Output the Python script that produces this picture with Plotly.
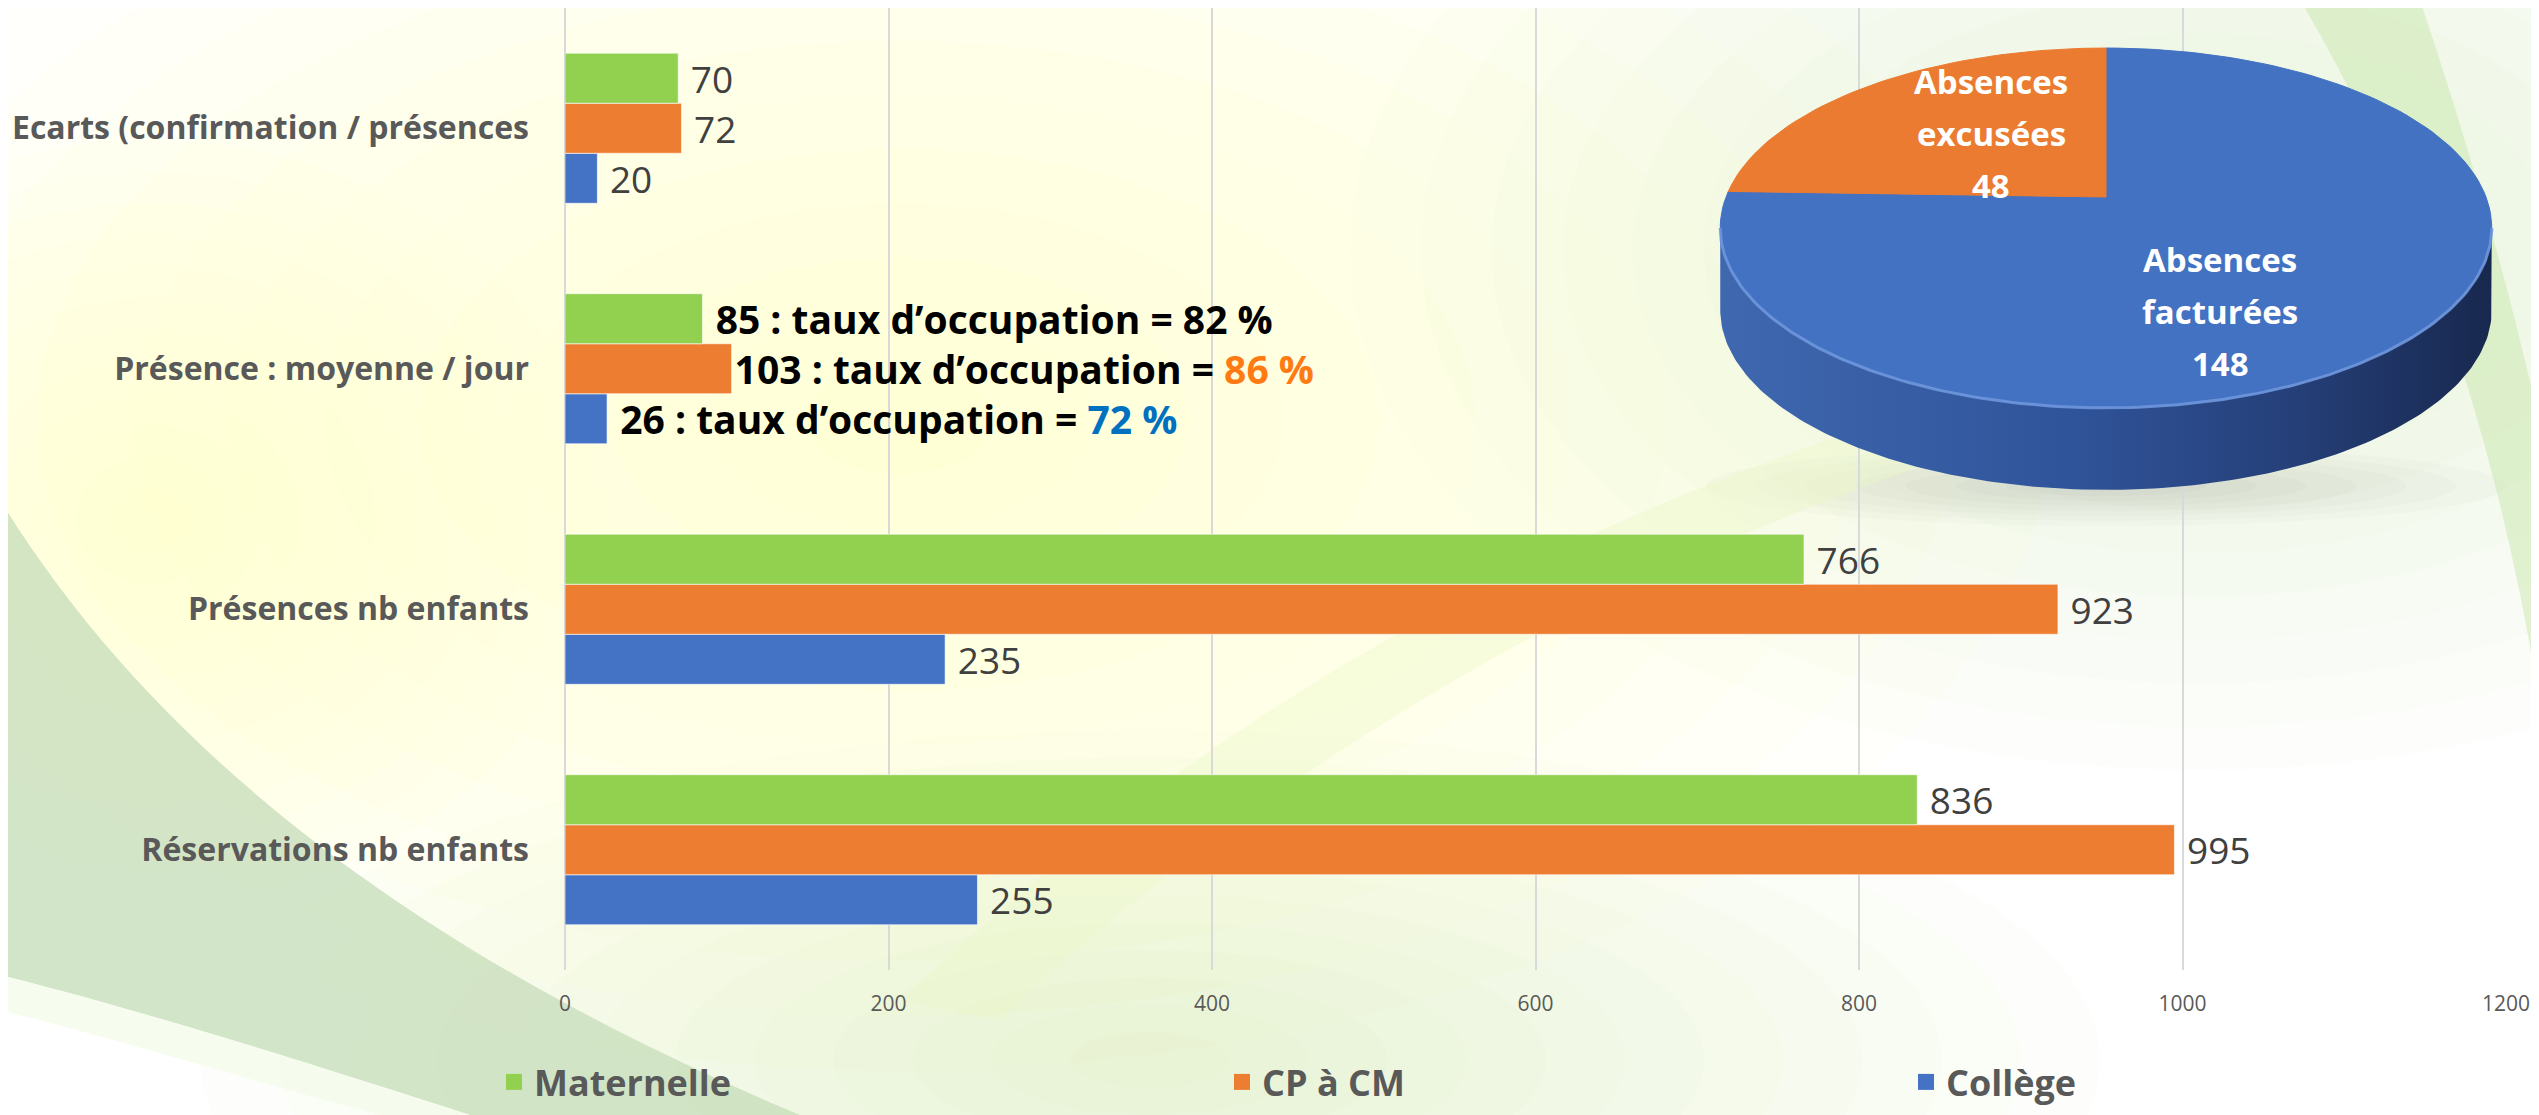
import math
import plotly.graph_objects as go

# ---------------- data ----------------
categories = [
    "Réservations nb enfants",
    "Présences nb enfants",
    "Présence : moyenne / jour",
    "Ecarts (confirmation / présences",
]
maternelle = [836, 766, 85, 70]
cp_cm = [995, 923, 103, 72]
college = [255, 235, 26, 20]

taux_maternelle = 82
taux_cp_cm = 86
taux_college = 72

x_ticks = [0, 200, 400, 600, 800, 1000, 1200]

pie_labels = ["Absences facturées", "Absences excusées"]
pie_values = [148, 48]

# ---------------- styles ----------------
FONT = "Open Sans"
C_GREEN = "#92D050"
C_ORANGE = "#ED7D31"
C_BLUE = "#4472C4"
GRAY_TXT = "#595959"
VAL_TXT = "#404040"

SCREEN_W, SCREEN_H = 2539, 1115
OFF = 8                                  # page body margin
W, H = SCREEN_W - OFF, SCREEN_H - OFF    # figure size
PX0, PX1 = 565, 2506                     # plot area, screen pixels
PY0, PY1 = 8, 970
ML, MT = PX0 - OFF, PY0 - OFF
MR, MB = W - (PX1 - OFF), H - (PY1 - OFF)


def paper(px, py):
    return (px - PX0) / (PX1 - PX0), (PY1 - py) / (PY1 - PY0)


def path_px(cmds):
    out = []
    for c in cmds:
        if isinstance(c, str):
            out.append(c)
        else:
            x, y = paper(*c)
            out.append(f"{x:.5f},{y:.5f}")
    return " ".join(out)


def value_labels(vals, taux, pct_color, lead):
    out = []
    for cat, v in zip(categories, vals):
        if cat == "Présence : moyenne / jour":
            pct = f"{taux} %"
            if pct_color:
                pct = f"<span style='color:{pct_color}'>{pct}</span>"
            out.append(f"<b>{lead}{v} : taux d’occupation = {pct}</b>")
        else:
            out.append(f" {v}")
    return out


def label_colors():
    return ["#000000" if c == "Présence : moyenne / jour" else VAL_TXT for c in categories]


def label_sizes():
    return [39 if c == "Présence : moyenne / jour" else 37 for c in categories]


fig = go.Figure()

series = [
    ("Collège", college, C_BLUE, taux_college, "#0070C0", " ", "legend3"),
    ("CP à CM", cp_cm, C_ORANGE, taux_cp_cm, "#FF7A12", "", "legend2"),
    ("Maternelle", maternelle, C_GREEN, taux_maternelle, None, " ", "legend"),
]

for name, vals, col, taux, pcol, lead, lg in series:
    fig.add_trace(go.Bar(
        y=categories, x=vals, orientation="h", name=name,
        marker=dict(color=col, line=dict(color="rgba(255,255,255,0.6)", width=1)),
        text=value_labels(vals, taux, pcol, lead),
        textposition="outside", cliponaxis=False, constraintext="none",
        textfont=dict(family=FONT, size=label_sizes(), color=label_colors()),
        showlegend=False, legendgroup=name, hoverinfo="x+name",
    ))
    fig.add_trace(go.Scatter(
        x=[None], y=[None], mode="markers", name=name, legend=lg,
        legendgroup=name,
        marker=dict(symbol="square", size=16, color=col),
    ))

# ---------------- 3D-looking pie on a pixel-mapped overlay axis ----------------
PIE_CX, PIE_CY, PIE_RX = 2106, 197, 380
PIE_B, PIE_C, PIE_DEPTH = -140.7, 0.172, 82
pie_colors = {"Absences facturées": "#4372C2", "Absences excusées": "#EB7B30"}


def proj(theta):
    u, v = math.cos(theta), math.sin(theta)
    d = 1 + PIE_C * v
    return PIE_CX + PIE_RX * u / d, (PIE_CY + PIE_B * v) / d


# side wall (front half)
tL = math.pi + math.asin(PIE_C)
tR = 2 * math.pi - math.asin(PIE_C)
n = 160
top_edge = [proj(tL + (tR - tL) * i / n) for i in range(n + 1)]
side_x = [p[0] for p in top_edge] + [p[0] for p in reversed(top_edge)]
side_y = [p[1] for p in top_edge] + [p[1] + PIE_DEPTH for p in reversed(top_edge)]
fig.add_trace(go.Scatter(
    x=side_x, y=side_y, xaxis="x2", yaxis="y2", mode="lines",
    fill="toself", line=dict(width=0, color="#2E4E8E"),
    fillgradient=dict(type="horizontal",
                      colorscale=[[0, "#3F68B0"], [0.45, "#30549A"], [0.75, "#253F78"], [1, "#18284E"]]),
    showlegend=False, hoverinfo="skip",
))

# top face slices (first slice starts at 12 o'clock, clockwise)
total = sum(pie_values)
start = math.pi / 2
for lab, val in zip(pie_labels, pie_values):
    span = 2 * math.pi * val / total
    m = max(8, int(200 * val / total))
    pts = [proj(start - span * i / m) for i in range(m + 1)]
    xs = [PIE_CX] + [p[0] for p in pts] + [PIE_CX]
    ys = [PIE_CY] + [p[1] for p in pts] + [PIE_CY]
    fig.add_trace(go.Scatter(
        x=xs, y=ys, xaxis="x2", yaxis="y2", mode="lines", fill="toself",
        fillcolor=pie_colors[lab], line=dict(width=1, color=pie_colors[lab]),
        name=lab, showlegend=False, hoverinfo="name",
    ))
    start -= span

# rim highlight
fig.add_trace(go.Scatter(
    x=[p[0] for p in top_edge], y=[p[1] for p in top_edge], xaxis="x2", yaxis="y2",
    mode="lines", line=dict(width=3, color="rgba(110,150,220,0.9)"),
    showlegend=False, hoverinfo="skip",
))

pie_label_pos = {"Absences excusées": (1991, 81), "Absences facturées": (2220, 259)}
LINE_STEP = 52
for lab, val in zip(pie_labels, pie_values):
    w1, w2 = lab.split(" ", 1)
    px, py = pie_label_pos[lab]
    for k, line in enumerate([w1, w2, str(val)]):
        fig.add_annotation(
            x=px, y=py + k * LINE_STEP, xref="x2", yref="y2", showarrow=False,
            text=f"<b>{line}</b>",
            font=dict(family=FONT, size=33, color="white"),
            align="center",
        )

# ---------------- background decoration ----------------
bg = []


def glow(cx, cy, rx, ry, rgb, peak, n=12):
    for k in range(n, 0, -1):
        s = k / n
        x0, y0 = paper(cx - rx * s, cy - ry * s)
        x1, y1 = paper(cx + rx * s, cy + ry * s)
        bg.append(dict(type="circle", xref="paper", yref="paper", x0=x0, x1=x1, y0=y1, y1=y0,
                       fillcolor=f"rgba({rgb[0]},{rgb[1]},{rgb[2]},{peak / n:.4f})",
                       line_width=0, layer="below"))


glow(900, 420, 1150, 650, (255, 248, 170), 0.6)
glow(150, 520, 450, 380, (255, 250, 175), 0.5)
glow(2200, 250, 850, 520, (210, 238, 175), 0.5)
glow(1150, 1060, 950, 330, (212, 240, 180), 0.6)
glow(2106, 486, 400, 40, (90, 90, 90), 0.18, n=8)

# grey-green swoosh band bottom-left
bg.append(dict(type="path", xref="paper", yref="paper", layer="below", line_width=0,
               fillcolor="rgba(200,222,188,0.8)",
               path=path_px(["M", (0, 500), "C", (160, 760), (430, 960), (800, SCREEN_H),
                             "L", (470, SCREEN_H), "C", (300, 1060), (140, 1010), (0, 975), "Z"])))
# pale streak
bg.append(dict(type="path", xref="paper", yref="paper", layer="below", line_width=0,
               fillcolor="rgba(245,252,235,0.85)",
               path=path_px(["M", (0, 975), "C", (140, 1010), (300, 1060), (470, SCREEN_H),
                             "L", (380, SCREEN_H), "C", (250, 1080), (120, 1040), (0, 1010), "Z"])))
# yellow-green swoosh middle
bg.append(dict(type="path", xref="paper", yref="paper", layer="below", line_width=0,
               fillcolor="rgba(235,248,200,0.4)",
               path=path_px(["M", (900, 1000), "C", (1200, 720), (1600, 470), (2150, 350),
                             "L", (2150, 400), "C", (1650, 520), (1250, 780), (1000, 1020), "Z"])))
# green swoosh on the right edge
bg.append(dict(type="path", xref="paper", yref="paper", layer="below", line_width=0,
               fillcolor="rgba(195,228,165,0.45)",
               path=path_px(["M", (2300, 0), "C", (2420, 200), (2500, 450), (SCREEN_W, 700),
                             "L", (SCREEN_W, 420), "C", (2500, 250), (2460, 120), (2420, 0), "Z"])))
for s in bg:
    fig.add_shape(**s)

# ---------------- layout ----------------
leg_common = dict(orientation="h", yanchor="bottom", xanchor="left",
                  bgcolor="rgba(0,0,0,0)", itemsizing="trace", borderwidth=0,
                  font=dict(family=FONT, size=36, color=GRAY_TXT, weight="bold"))
ly = paper(0, 1112)[1]
fig.update_layout(
    width=W, height=H,
    margin=dict(l=ML, r=MR, t=MT, b=MB, pad=0, autoexpand=False),
    paper_bgcolor="white", plot_bgcolor="rgba(0,0,0,0)",
    font=dict(family=FONT, color=GRAY_TXT),
    barmode="group", bargap=0.376, bargroupgap=0,
    xaxis=dict(range=[0, 1200], tickvals=x_ticks, showgrid=True, gridcolor="#D9D9D9",
               gridwidth=1.5, zeroline=True, zerolinecolor="#D9D9D9", zerolinewidth=1.5,
               showline=False, ticks="", ticklabelstandoff=19, automargin=False,
               tickfont=dict(family=FONT, size=21, color=GRAY_TXT), fixedrange=True),
    yaxis=dict(categoryorder="array", categoryarray=categories, showgrid=False,
               ticks="", ticklabelstandoff=35, showline=False, zeroline=False, automargin=False,
               tickfont=dict(family=FONT, size=32, color=GRAY_TXT, weight="bold"),
               fixedrange=True),
    xaxis2=dict(overlaying="x", anchor="y2", range=[PX0, PX1], visible=False, fixedrange=True),
    yaxis2=dict(overlaying="y", anchor="x2", range=[PY1, PY0], visible=False, fixedrange=True),
    legend=dict(x=paper(494, 0)[0], y=ly, **leg_common),
    legend2=dict(x=paper(1222, 0)[0], y=ly, **leg_common),
    legend3=dict(x=paper(1906, 0)[0], y=ly, **leg_common),
)

fig.write_html("out.html")
